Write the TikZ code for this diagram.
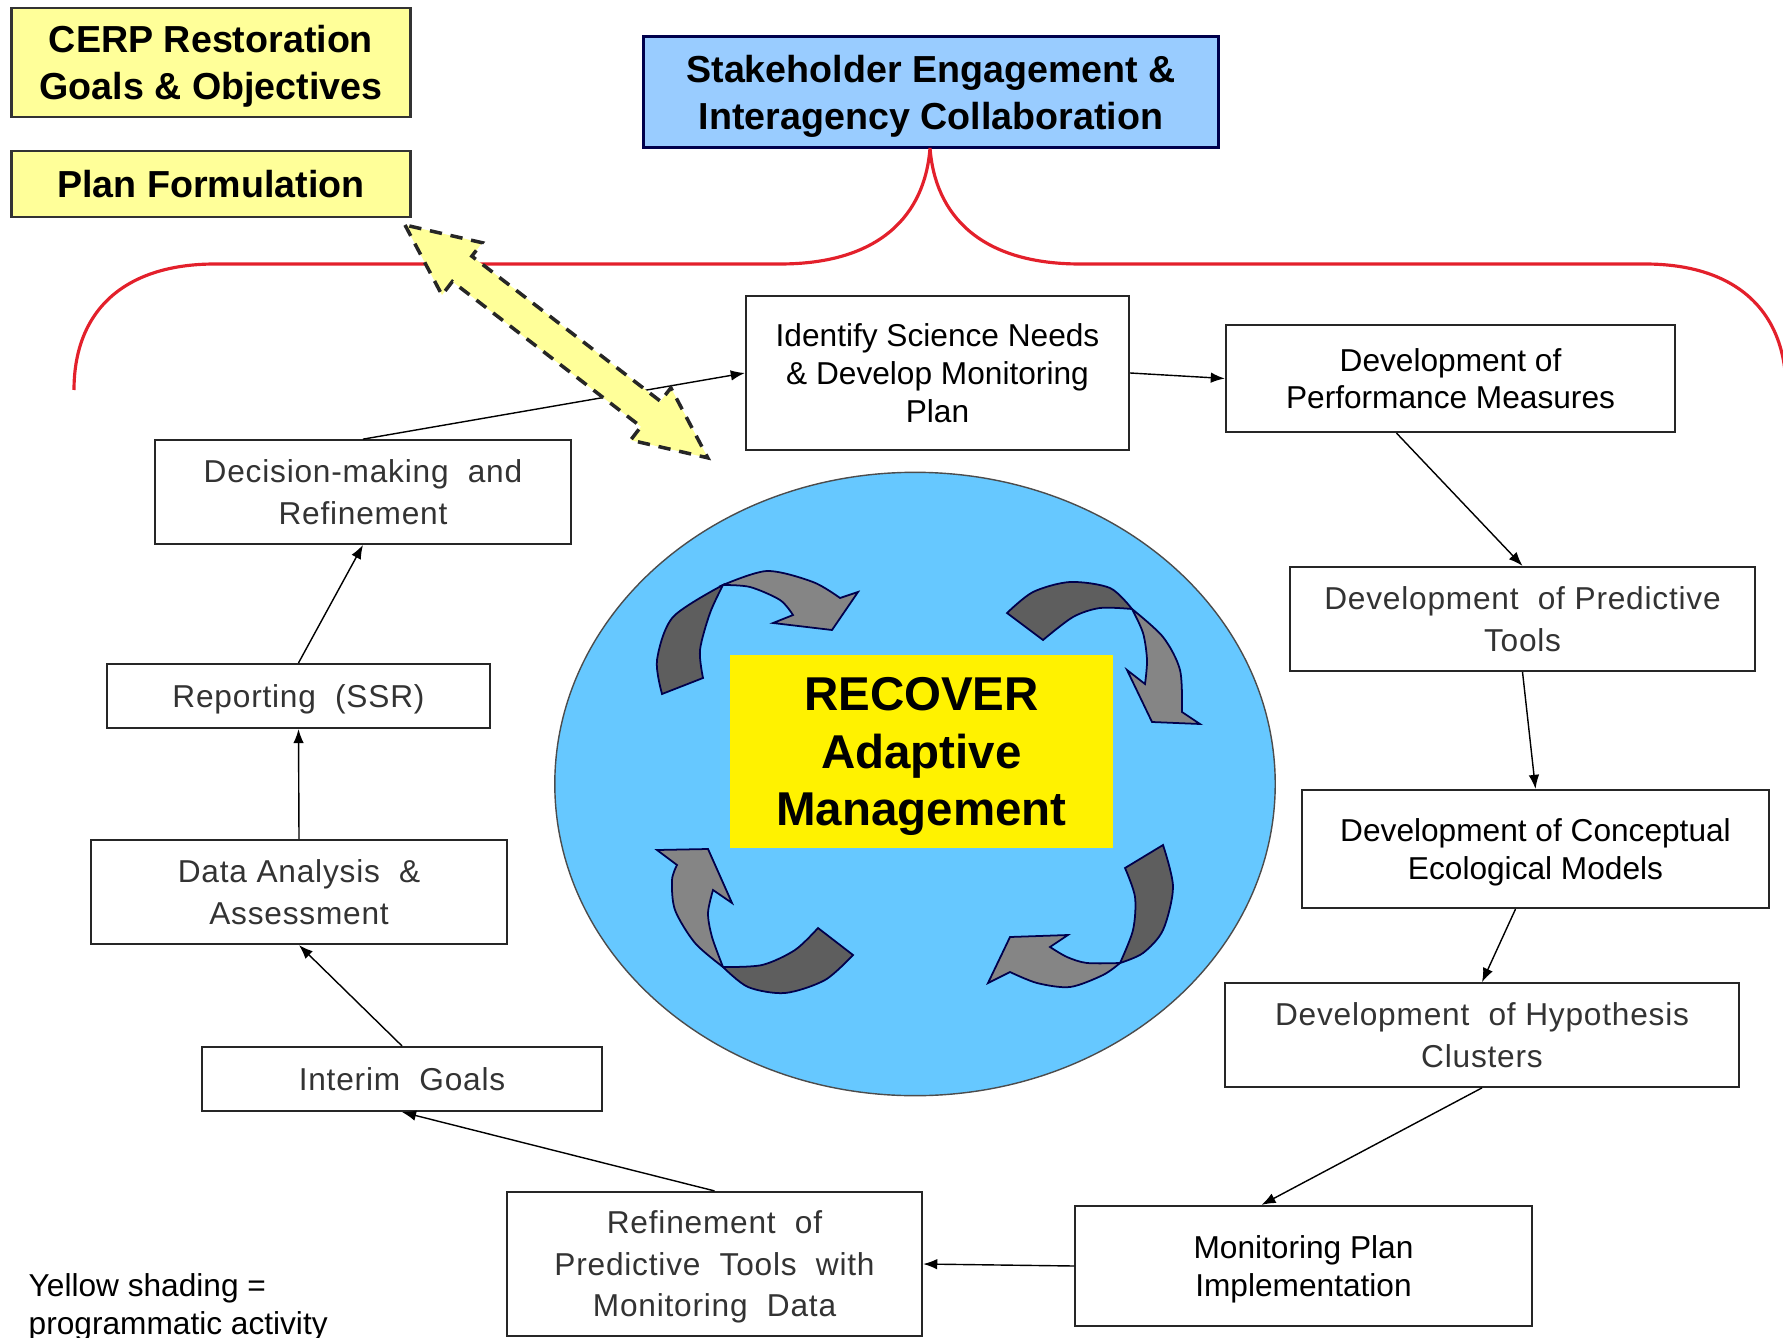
\documentclass[tikz,border=0pt]{standalone}
\usepackage{fontspec}
\setmainfont{Liberation Sans}
\newfontfamily\spacedfont[LetterSpace=2.5]{Liberation Sans}
\usepackage{tikz}
\usetikzlibrary{arrows.meta}

\definecolor{paleyellow}{HTML}{FFFF99}
\definecolor{skyblue}{HTML}{99CCFF}
\definecolor{poolblue}{HTML}{66C8FF}
\definecolor{bracered}{HTML}{E3202B}
\definecolor{darkgrey}{HTML}{5E5E5E}
\definecolor{lightgrey}{HTML}{858585}

\begin{document}
\begin{tikzpicture}[x=0.01cm, y=-0.01cm, >={Latex[length=4pt,width=3pt]},
    every node/.style={font=\fontsize{9}{10.7}\selectfont},
    task/.style={draw=black!85, semithick, rectangle, fill=white, align=center, inner sep=2pt, text depth=0pt},
    oldtask/.style={task, text=black!80, font=\spacedfont\fontsize{9}{11.8}\selectfont},
    headbox/.style={draw=black!80, thick, rectangle, align=center, text depth=0pt, font=\bfseries\fontsize{10.7}{13.3}\selectfont},
    tailpart/.style={fill=darkgrey, draw=black!70!blue, line width=0.5pt},
    headpart/.style={fill=lightgrey, draw=black!70!blue, line width=0.5pt}]
    \useasboundingbox (0,0) rectangle (1783,1337);

    % Circle
    \draw[fill=poolblue, draw=black!70] (915,784) ellipse [x radius=3.6cm, y radius=3.115cm];

    % Top boxes
    \node[headbox, fill=paleyellow, minimum width=3.99cm, minimum height=1.09cm] (cerp) at (211,62.5) {CERP Restoration\\Goals \& Objectives};
    \node[headbox, fill=paleyellow, minimum width=3.99cm, minimum height=0.66cm] (planform) at (211,184) {Plan Formulation};
    \node[headbox, fill=skyblue, draw=blue!30!black, minimum width=5.75cm, minimum height=1.11cm] (stake) at (931,92) {Stakeholder Engagement \&\\Interagency Collaboration};

    % Right side of the cycle
    \node[task, minimum width=3.83cm, minimum height=1.54cm] (identify) at (937.5,373) {Identify Science Needs\\\& Develop Monitoring\\Plan};
    \node[task, minimum width=4.49cm, minimum height=1.07cm] (perf) at (1450.5,378.5) {Development of\\Performance Measures};
    \node[oldtask, minimum width=4.64cm, minimum height=1.04cm] (predict) at (1522.5,619) {Development~ of Predictive\\Tools};
    \node[task, minimum width=4.67cm, minimum height=1.18cm] (concept) at (1535.5,849) {Development of Conceptual\\Ecological Models};
    \node[oldtask, minimum width=5.13cm, minimum height=1.035cm] (hypo) at (1482,1035) {Development~ of Hypothesis\\Clusters};
    \node[task, minimum width=4.56cm, minimum height=1.2cm] (monitor) at (1303.5,1266) {Monitoring Plan\\Implementation};

    % Left side of the cycle
    \node[oldtask, minimum width=4.15cm, minimum height=1.44cm] (refine) at (714.5,1264) {Refinement~ of\\Predictive~ Tools~ with\\Monitoring~ Data};
    \node[oldtask, minimum width=4cm, minimum height=0.64cm] (interim) at (402,1079) {Interim~ Goals};
    \node[oldtask, minimum width=4.16cm, minimum height=1.04cm] (data) at (299,892) {Data Analysis~ \&\\Assessment};
    \node[oldtask, minimum width=3.83cm, minimum height=0.64cm] (report) at (298.5,696) {Reporting~ (SSR)};
    \node[oldtask, minimum width=4.16cm, minimum height=1.035cm] (decide) at (363,492) {Decision-making~ and\\Refinement};

    % Centre
    \node[fill=yellow, align=center, text depth=0pt, minimum width=3.83cm, minimum height=1.93cm, font=\bfseries\fontsize{13.5}{16.3}\selectfont] (recover) at (921.5,751.5) {RECOVER\\Adaptive\\Management};

    % Curved arrows in the circle
    \filldraw[tailpart] plot[smooth] coordinates {(662,694) (657,660) (673,617) (723,585)} -- plot[smooth] coordinates {(723,585) (710,613) (700,650) (703,678)} -- cycle;
    \filldraw[headpart] plot[smooth] coordinates {(723,585) (767,571) (813,582) (840,598)} -- (858,592) -- (832,630) -- (773,623) -- plot[smooth] coordinates {(793,615) (780,600) (750,587) (723,585)} -- cycle;

    \filldraw[tailpart] plot[smooth] coordinates {(1007,613) (1033,592) (1070,582) (1110,588) (1132,609)} -- plot[smooth] coordinates {(1132,609) (1100,608) (1073,617) (1043,640)} -- cycle;
    \filldraw[headpart] plot[smooth] coordinates {(1132,609) (1163,637) (1180,670) (1182,712)} -- (1200,724) -- (1152,722) -- (1127,670) -- plot[smooth] coordinates {(1145,684) (1147,660) (1143,633) (1132,609)} -- cycle;

    \filldraw[tailpart] plot[smooth] coordinates {(1163,845) (1173,887) (1163,930) (1143,953) (1120,963)} -- plot[smooth] coordinates {(1120,963) (1133,930) (1135,897) (1125,868)} -- cycle;
    \filldraw[headpart] plot[smooth] coordinates {(1120,963) (1103,975) (1070,987) (1037,983) (1010,972)} -- (988,983) -- (1010,937) -- (1068,935) -- plot[smooth] coordinates {(1050,947) (1067,957) (1087,963) (1120,963)} -- cycle;

    \filldraw[tailpart] plot[smooth] coordinates {(853,955) (825,980) (785,993) (748,987) (723,967)} -- plot[smooth] coordinates {(723,967) (762,965) (795,950) (818,928)} -- cycle;
    \filldraw[headpart] plot[smooth] coordinates {(723,967) (695,943) (675,910) (672,880) (677,865)} -- (657,850) -- (708,849) -- (732,903) -- plot[smooth] coordinates {(713,890) (708,913) (712,937) (723,967)} -- cycle;

    % Edges
    \draw[->, thin] (decide.north) -- (identify.west);
    \draw[->, thin] (identify.east) -- (perf.west);
    \draw[->, thin] ([xshift=-0.54cm]perf.south) -- (predict.north);
    \draw[->, thin] (predict.south) -- (concept.north);
    \draw[->, thin] ([xshift=-0.2cm]concept.south) -- (hypo.north);
    \draw[->, thin] (hypo.south) -- ([xshift=-0.42cm]monitor.north);
    \draw[->, thin] (monitor.west) -- (refine.east);
    \draw[->, thin] (refine.north) -- (interim.south);
    \draw[->, thin] (interim.north) -- (data.south);
    \draw[->, thin] (data.north) -- (report.south);
    \draw[->, thin] (report.north) -- (decide.south);

    % Red bracket under the stakeholder box
    \draw[bracered, line width=0.9pt] (74,390) .. controls (74,310) and (125,264) .. (215,264) -- (780,264) .. controls (880,264) and (925,215) .. (930,148) .. controls (935,215) and (980,264) .. (1080,264) -- (1645,264) .. controls (1735,264) and (1786,310) .. (1786,390);

    % Yellow double arrow
    \begin{scope}[shift={(405,225)}, rotate=-37.56]
        \filldraw[fill=paleyellow, draw=black!85, line width=1pt, dash pattern=on 3.5pt off 2.5pt] (0,0) -- (72,33) -- (72,16) -- (310,16) -- (310,33) -- (382,0) -- (310,-33) -- (310,-16) -- (72,-16) -- (72,-33) -- cycle;
    \end{scope}

    % Legend
    \node[anchor=north west, align=left, inner sep=0pt] (legend) at (28,1273) {Yellow shading =\\programmatic activity};
\end{tikzpicture}
\end{document}
